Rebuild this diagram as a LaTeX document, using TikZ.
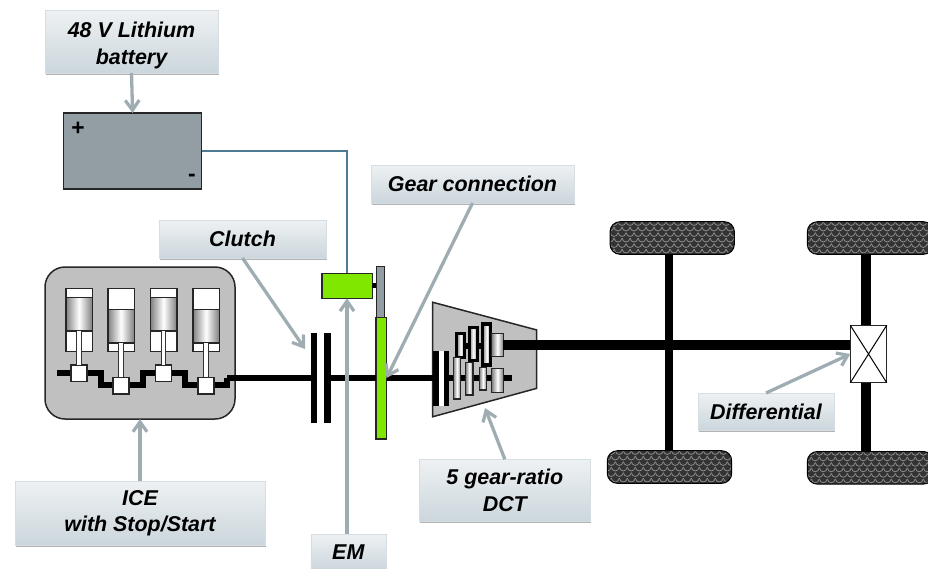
\documentclass[tikz,border=0pt]{standalone}
\usepackage{fontspec}
\setmainfont{Liberation Sans}
\usetikzlibrary{shadows,arrows.meta}
\definecolor{callgray}{HTML}{9FADB3}
\definecolor{wirecol}{HTML}{4F7A94}
\definecolor{emgreen}{HTML}{80E800}
\definecolor{batcol}{HTML}{929EA4}
\definecolor{blockgray}{HTML}{C0C0C0}
\definecolor{tyrecol}{HTML}{333333}
\definecolor{labeltop}{HTML}{EEF1F3}
\definecolor{labelbot}{HTML}{CBD6DC}
\def\U{0.02cm} % one pixel of the reference
\tikzset{
    sized/.style 2 args={inner sep=0pt, outer sep=0pt, minimum width=#1*\U, minimum height=#2*\U},
    labelbox/.style 2 args={sized={#1}{#2}, top color=labeltop, bottom color=labelbot,
        draw=labelbot!80, line width=0.3pt, align=center, text=black,
        font=\fontsize{12.2}{15}\selectfont\bfseries\itshape,
        drop shadow={shadow xshift=0.4pt, shadow yshift=-0.9pt, fill=black, opacity=0.3}},
    callout/.style={draw=callgray, line width=3.3*\U, -{Straight Barb[length=10*\U, width=14*\U, line width=3.2*\U]}},
    shaft/.style={draw=black, line width=#1*\U},
    solid box/.style 2 args={sized={#1}{#2}, fill=black},
    thin box/.style 2 args={sized={#1}{#2}, draw=black!85, line width=1.5*\U},
    gear/.style 2 args={thin box={#1}{#2}, left color=black!50, right color=black!50, middle color=white},
    upgear/.style 2 args={gear={#1}{#2}, draw=black, line width=3.5*\U},
    tyre/.style 2 args={sized={#1}{#2}, draw=black, line width=1*\U, fill=tyrecol, rounded corners=10*\U,
        path picture={
            \foreach \i in {-3,...,17} {
                \foreach \j in {0,...,6} {
                    \draw[black!45, line width=0.8*\U] ([xshift=\i*8*\U+\j*4*\U, yshift=-\j*5.5*\U]path picture bounding box.north west)
                        .. controls +(1*\U,-5*\U) and +(-1*\U,-5*\U) .. +(8*\U,0);
                }
            }
        }},
}
\begin{document}
\begin{tikzpicture}[x=0.02cm, y=-0.02cm]
    \useasboundingbox (0,0) rectangle (928,568);

    % Engine block
    \node[thin box={190}{152}, fill=blockgray, rounded corners=20*\U] (ice) at (140,343) {};
    \draw[shaft=5.5] (57,373) -- (101,373) -- (101,385) -- (143,385) -- (143,373) -- (185,373) -- (185,385) -- (227,385) -- (227,378) coordinate (crankout);
    \foreach \n/\x/\p/\c in {1/79/314/373, 2/121/326/385.5, 3/163.5/314/373, 4/206/326/385.5} {
        \node[thin box={26.5}{63}, fill=white] (cyl\n) at (\x,320) {};
        \node[gear={26.5}{33.5}] (piston\n) at (\x,\p) {};
        \node[thin box={16}{16.5}, fill=white] (crank\n) at (\x,\c) {};
        \draw[draw=black!80, line width=0.9*\U, double=white, double distance=3.6*\U] (piston\n.south) -- (crank\n.north);
    }

    % Clutch, motor and gears
    \node[solid box={6.7}{90}] (clutcha) at (314,378) {};
    \node[solid box={7.3}{90}] (clutchb) at (327.7,378) {};
    \node[thin box={10.5}{121.5}, fill=emgreen] (gearbar) at (381.3,378) {};
    \node[thin box={8.4}{51}, fill=batcol] (pinion) at (380.5,292) {};
    \node[thin box={50.5}{25}, fill=emgreen] (em) at (347,285.8) {};
    \draw[shaft=5] (em.east) -- (em.east -| pinion.west);

    % Gearbox
    \node[sized={104}{114.5}] (dctbound) at (484.7,359.5) {};
    \draw[draw=black!85, line width=1.5*\U, fill=blockgray] (dctbound.north west) -- ([yshift=-27.7*\U]dctbound.north east) -- ([yshift=28.4*\U]dctbound.south east) -- (dctbound.south west) -- cycle;
    \node[solid box={6.6}{55}] (inplatea) at (436,378) {};
    \node[sized={4.7}{55}, fill=white] (inplategap) at (441.7,378) {};
    \node[solid box={5.3}{55}] (inplateb) at (446.7,378) {};

    % Shafts
    \draw[shaft=6.5] (crankout) -- (clutcha.west);
    \draw[shaft=6.5] (clutchb.east) -- (gearbar.west);
    \draw[shaft=6.5] (gearbar.east) -- (inplatea.west);
    \coordinate (lowerend) at (511.7,378);
    \draw[shaft=6.5] (inplateb.east) -- (lowerend);
    \coordinate (upperstart) at (456.7,346);
    \draw[shaft=5.5] (upperstart) -- (492,346);
    \foreach \n/\x/\y/\w/\h in {1/460.7/345.3/8/24, 2/473.3/344.2/8/33, 3/486.7/344.6/8/41} {
        \node[upgear={\w}{\h}] (upgear\n) at (\x,\y) {};
    }
    \foreach \n/\x/\y/\w/\h in {1/457/378.2/7.4/41.7, 2/469.3/378.6/7.3/32.7, 3/483/378.7/7.4/22.7, 4/497.5/380.5/11.6/24.4} {
        \node[gear={\w}{\h}] (lowgear\n) at (\x,\y) {};
    }
    \node[gear={11.6}{23.4}] (outgear) at (497.5,345) {};

    % Rear end
    \node[tyre={124.3}{32.6}] (tyrea) at (672.2,238) {};
    \node[tyre={124.4}{32.6}] (tyreb) at (669.5,467) {};
    \node[tyre={126}{32.6}] (tyrec) at (870.3,238) {};
    \node[tyre={126}{32.6}] (tyred) at (870.3,467.8) {};
    \node[thin box={36.4}{57.4}, fill=white] (diff) at (868.5,354) {};
    \draw[shaft=7.3] (tyrea.south -| 669,0) -- (tyreb.north -| 669,0);
    \draw[shaft=10] (tyrec.south -| 866.3,0) -- (diff.north -| 866.3,0);
    \draw[shaft=10] (diff.south -| 866.3,0) -- (tyred.north -| 866.3,0);
    \draw[black, line width=1*\U] (diff.north west) -- (diff.south east) (diff.north east) -- (diff.south west);
    \draw[shaft=10.7] (outgear.east) -- (outgear.east -| diff.west);

    % Labels
    \node[labelbox={173}{63}] (lbattery) at (131.5,41.5) {\rule{0pt}{13.5pt}48 V Lithium\\battery};
    \node[thin box={138}{76}, fill=batcol] (battery) at (132.6,151) {};
    \node[font=\fontsize{13}{13}\selectfont\bfseries, inner sep=0pt] (plus) at (78,128.5) {+};
    \node[font=\fontsize{13}{13}\selectfont\bfseries, inner sep=0pt] (minus) at (192,178) {-};
    \node[labelbox={203}{38}] (lgear) at (472.5,184) {Gear connection};
    \node[labelbox={167}{38}] (lclutch) at (242.5,239) {Clutch};
    \node[labelbox={136}{37}] (ldiff) at (766,411.5) {Differential};
    \node[labelbox={171}{62.5}] (ldct) at (504.8,490.5) {5 gear-ratio\\DCT};
    \node[labelbox={250}{64}] (lice) at (140,513) {ICE\\with Stop/Start};
    \node[labelbox={75}{36}] (lem) at (348.3,552) {EM};

    % Connectors
    \coordinate (clutchtip) at (305,349);
    \coordinate (dcttip) at (485,408);
    \draw[wirecol, line width=1.7*\U] (battery.east) -- (battery.east -| em.north) -- (em.north);
    \draw[callout] (lbattery.south) -- (battery.north);
    \draw[callout] (lgear.south) -- (gearbar.east);
    \draw[callout] (lclutch.south) -- (clutchtip);
    \draw[callout] (lem.north -| em.south) -- (em.south);
    \draw[callout] (lice.north) -- (ice.south);
    \draw[callout] (ldct.north) -- (dcttip);
    \draw[callout] (ldiff.north) -- (diff.west);
\end{tikzpicture}
\end{document}
